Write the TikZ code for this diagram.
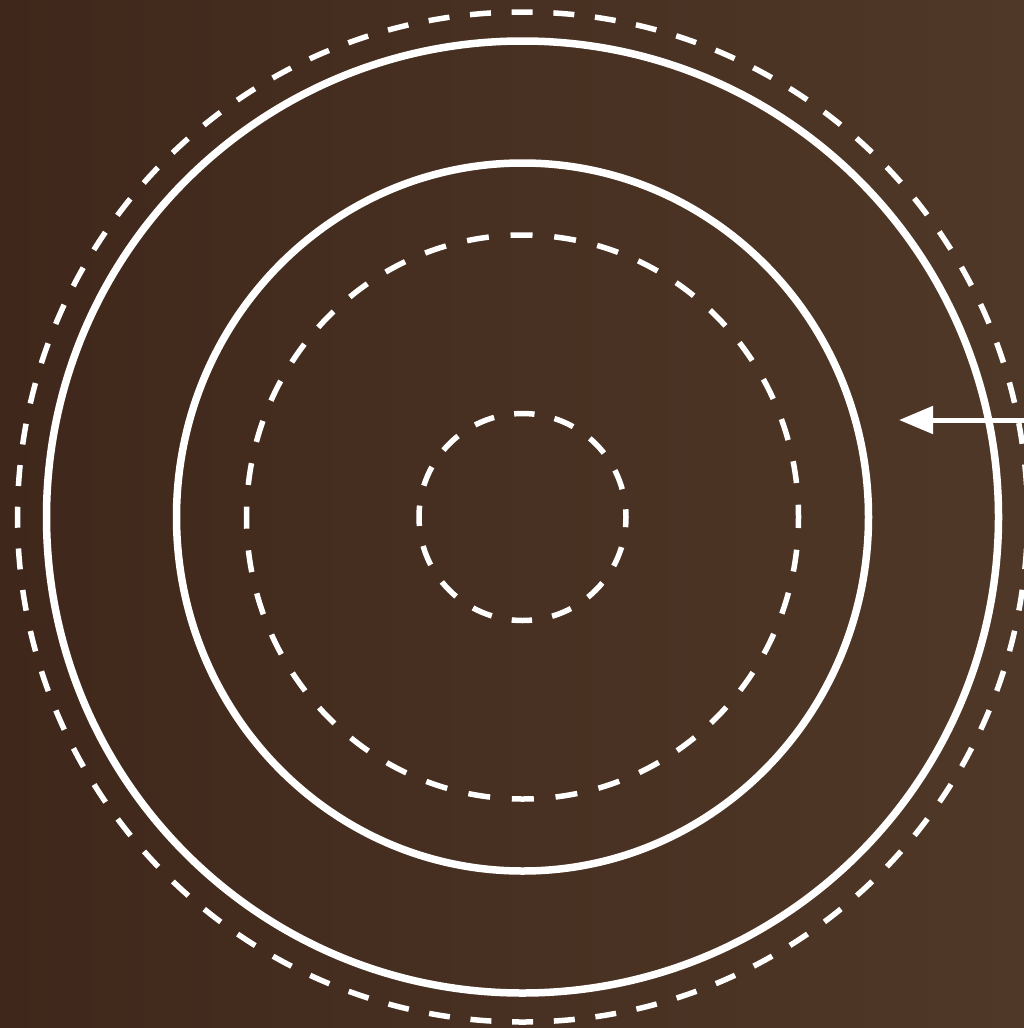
\documentclass[tikz,border=0pt]{standalone}
\usetikzlibrary{arrows.meta}
\definecolor{bgleft}{HTML}{3F281B}
\definecolor{bgright}{HTML}{503828}
\tikzset{
  solidring/.style={draw=white, line width=7.5pt},
  dashring/.style={draw=white, line width=5.5pt},
  pointer/.style={draw=white, line width=5pt, -{Triangle[length=34pt,width=27pt]}}
}
\begin{document}
\begin{tikzpicture}[x=1pt,y=-1pt]
  \shade[left color=bgleft, right color=bgright] (0,0) rectangle (1024,1028);
  \useasboundingbox (0,0) rectangle (1024,1028);
  \coordinate (c) at (522.5,517);
  % dashed rings
  \draw[dashring, dash pattern=on 21pt off 20.75pt, dash phase=10.5pt] (c) circle[radius=505];
  \draw[dashring, dash pattern=on 22pt off 21.8pt, dash phase=11pt] (c) circle[x radius=276, y radius=282];
  \draw[dashring, dash pattern=on 20.4pt off 20.4pt, dash phase=10.2pt] (c) circle[radius=103.5];
  % solid rings
  \draw[solidring] (c) circle[radius=476];
  \draw[solidring] (c) circle[x radius=346, y radius=354];
  % arrow
  \coordinate (tail) at (1030,420);
  \coordinate (tip) at (899,420);
  \draw[pointer] (tail) -- (tip);
\end{tikzpicture}
\end{document}
